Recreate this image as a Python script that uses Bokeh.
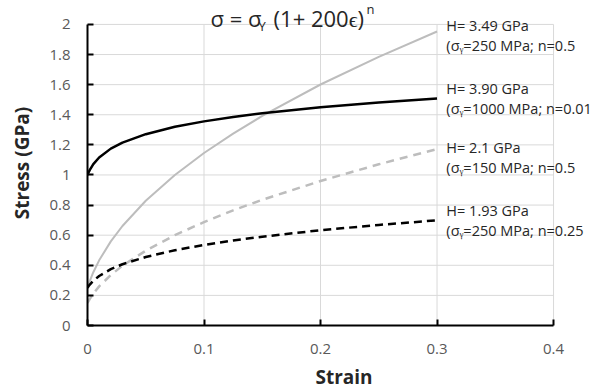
from bokeh.plotting import figure
from bokeh.models import Label, FixedTicker
from bokeh.embed import file_html
from bokeh.resources import INLINE

# Strain values (x) and stress values (GPa)
strain = [0, 0.001, 0.002, 0.005, 0.01, 0.02, 0.03, 0.05, 0.075, 0.1, 0.125, 0.15, 0.2, 0.25, 0.3]
s_250_n05 = [0.25, 0.274, 0.296, 0.354, 0.433, 0.559, 0.661, 0.829, 1.0, 1.146, 1.275, 1.392, 1.601, 1.785, 1.953]
s_1000_n001 = [1.0, 1.018, 1.034, 1.072, 1.116, 1.175, 1.215, 1.271, 1.320, 1.356, 1.385, 1.410, 1.450, 1.482, 1.508]
s_150_n05 = [0.15, 0.164, 0.177, 0.212, 0.260, 0.335, 0.397, 0.497, 0.600, 0.687, 0.765, 0.835, 0.960, 1.071, 1.172]
s_250_n025 = [0.25, 0.262, 0.272, 0.297, 0.329, 0.374, 0.407, 0.455, 0.500, 0.535, 0.565, 0.590, 0.633, 0.668, 0.699]

x_ticks = [0, 0.1, 0.2, 0.3, 0.4]
x_tick_labels = ["0", "0.1", "0.2", "0.3", "0.4"]
y_ticks = [0, 0.2, 0.4, 0.6, 0.8, 1.0, 1.2, 1.4, 1.6, 1.8, 2.0]
y_tick_labels = ["0", "0.2", "0.4", "0.6", "0.8", "1", "1.2", "1.4", "1.6", "1.8", "2"]

# title pieces: main text, subscript, main text, superscript
title_parts = ["σ = σ", "Y", "(1+ 200ϵ)", "n"]
annotations = [
    ("H= 3.49 GPa", "(σᵧ=250 MPa; n=0.5"),
    ("H= 3.90 GPa", "(σᵧ=1000 MPa; n=0.01"),
    ("H= 2.1 GPa", "(σᵧ=150 MPa; n=0.5"),
    ("H= 1.93 GPa", "(σᵧ=250 MPa; n=0.25"),
]
annot_y = [1.993, 1.575, 1.183, 0.764]

FONT = "Open Sans"
GRAY = "#bdbdbd"
GRID = "#d9d9d9"
TXT = "#262626"

p = figure(width=600, height=394, output_backend="svg", toolbar_location=None,
           x_range=(0, 0.4403), y_range=(0, 2.159),
           min_border_left=87, min_border_right=0, min_border_top=0, min_border_bottom=69)
p.outline_line_color = None
p.xgrid.visible = False
p.ygrid.visible = False

# grid lines (drawn within the axis bounds only)
gx = x_ticks[1:]
p.segment(x0=gx, y0=[y_ticks[0]] * len(gx), x1=gx, y1=[y_ticks[-1]] * len(gx),
          line_color=GRID, line_width=1)
gy = y_ticks[1:]
p.segment(x0=[x_ticks[0]] * len(gy), y0=gy, x1=[x_ticks[-1]] * len(gy), y1=gy,
          line_color=GRID, line_width=1)

p.line(strain, s_250_n05, line_color=GRAY, line_width=2)
p.line(strain, s_1000_n001, line_color="black", line_width=2.5)
p.line(strain, s_150_n05, line_color=GRAY, line_width=2.5, line_dash="8 6")
p.line(strain, s_250_n025, line_color="black", line_width=2.5, line_dash="8 5")

for ax in (p.xaxis[0], p.yaxis[0]):
    ax.axis_line_color = "black"
    ax.axis_line_width = 2
    ax.major_tick_in = 6
    ax.major_tick_out = 0
    ax.major_tick_line_color = "black"
    ax.major_tick_line_width = 2
    ax.minor_tick_line_color = None
    ax.major_label_text_font = FONT
    ax.major_label_text_font_size = "15px"
    ax.major_label_text_color = "#595959"
    ax.axis_label_text_font = FONT
    ax.axis_label_text_font_size = "19px"
    ax.axis_label_text_font_style = "bold"
    ax.axis_label_text_color = TXT

p.xaxis.bounds = (x_ticks[0], x_ticks[-1])
p.yaxis.bounds = (y_ticks[0], y_ticks[-1])
p.xaxis.ticker = FixedTicker(ticks=x_ticks)
p.xaxis.major_label_overrides = dict(zip(x_ticks, x_tick_labels))
p.yaxis.ticker = FixedTicker(ticks=y_ticks)
p.yaxis.major_label_overrides = dict(zip(y_ticks, y_tick_labels))
p.xaxis.axis_label = "Strain"
p.yaxis.axis_label = "Stress (GPa)"
p.xaxis.major_label_standoff = 18
p.yaxis.major_label_standoff = 17
p.xaxis.axis_label_standoff = 7
p.yaxis.axis_label_standoff = 11

# title, built from pieces so the subscript / superscript are sized like the original
title_x = [0.1056, 0.1468, 0.1597, 0.2395]
title_y = [2.040, 1.990, 2.040, 2.100]
title_size = ["22px", "13px", "22px", "13px"]
for t, tx, ty, ts in zip(title_parts, title_x, title_y, title_size):
    p.add_layout(Label(x=tx, y=ty, text=t, text_font=FONT, text_font_size=ts,
                       text_align="left", text_baseline="middle", text_color=TXT))

for (l1, l2), yv in zip(annotations, annot_y):
    p.add_layout(Label(x=0.308, y=yv, text=l1, text_font=FONT, text_font_size="14.5px",
                       text_align="left", text_baseline="middle", text_color=TXT))
    p.add_layout(Label(x=0.308, y=yv - 0.133, text=l2, text_font=FONT, text_font_size="14.5px",
                       text_align="left", text_baseline="middle", text_color=TXT))

open("out.html", "w").write(file_html(p, INLINE))
